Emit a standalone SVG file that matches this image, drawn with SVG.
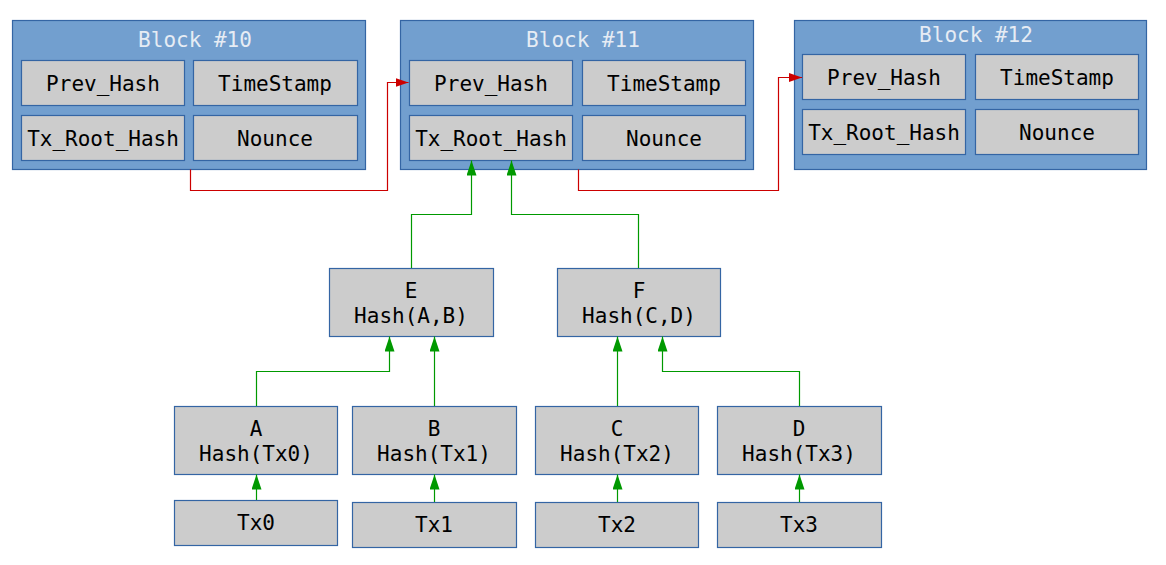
<svg xmlns="http://www.w3.org/2000/svg" width="1166" height="565" viewBox="0 0 1166 565">
<defs>
<style>
.blk{fill:#729fcf;stroke:#3465a4;stroke-width:1.2}
.cell{fill:#cccccc;stroke:#3465a4;stroke-width:1.2}
text{font-family:"DejaVu Sans Mono","Liberation Mono",monospace;font-size:21px;text-anchor:middle;fill:#000}
.ttl{fill:#e6ecf4}
.red{fill:none;stroke:#cc0000;stroke-width:1.2}
.grn{fill:none;stroke:#009900;stroke-width:1.2}
</style>
<marker id="ar" markerUnits="userSpaceOnUse" markerWidth="14" markerHeight="10" refX="13" refY="4.5" orient="auto"><path d="M0,0 L13,4.5 L0,9 z" fill="#cc0000"/></marker>
<marker id="ag" markerUnits="userSpaceOnUse" markerWidth="16" markerHeight="11" refX="15" refY="5" orient="auto"><path d="M0,0 L15,5 L0,10 z" fill="#009900"/></marker>
</defs>
<rect width="1166" height="565" fill="#ffffff"/>
<g id="block10">
<rect class="blk" x="12.5" y="20.5" width="353" height="149"/>
<text class="ttl" x="195" y="47">Block #10</text>
<rect class="cell" x="21.5" y="60.5" width="163" height="45"/>
<text x="103" y="91">Prev_Hash</text>
<rect class="cell" x="193.5" y="60.5" width="164" height="45"/>
<text x="275" y="91">TimeStamp</text>
<rect class="cell" x="21.5" y="115.5" width="163" height="45"/>
<text x="103" y="146">Tx_Root_Hash</text>
<rect class="cell" x="193.5" y="115.5" width="164" height="45"/>
<text x="275" y="146">Nounce</text>
</g>
<g id="block11">
<rect class="blk" x="400.5" y="20.5" width="353" height="149"/>
<text class="ttl" x="583" y="47">Block #11</text>
<rect class="cell" x="409.5" y="60.5" width="163" height="45"/>
<text x="491" y="91">Prev_Hash</text>
<rect class="cell" x="582.5" y="60.5" width="163" height="45"/>
<text x="664" y="91">TimeStamp</text>
<rect class="cell" x="409.5" y="115.5" width="163" height="45"/>
<text x="491" y="146">Tx_Root_Hash</text>
<rect class="cell" x="582.5" y="115.5" width="163" height="45"/>
<text x="664" y="146">Nounce</text>
</g>
<g id="block12">
<rect class="blk" x="794.5" y="20.5" width="352" height="149"/>
<text class="ttl" x="976" y="42">Block #12</text>
<rect class="cell" x="802.5" y="54.5" width="163" height="45"/>
<text x="884" y="85">Prev_Hash</text>
<rect class="cell" x="975.5" y="54.5" width="163" height="45"/>
<text x="1057" y="85">TimeStamp</text>
<rect class="cell" x="802.5" y="109.5" width="163" height="45"/>
<text x="884" y="140">Tx_Root_Hash</text>
<rect class="cell" x="975.5" y="109.5" width="163" height="45"/>
<text x="1057" y="140">Nounce</text>
</g>
<g id="nodeE">
<rect class="cell" x="329.5" y="268.5" width="164" height="68"/>
<text x="411" y="298">E</text>
<text x="411" y="323">Hash(A,B)</text>
</g>
<g id="nodeF">
<rect class="cell" x="557.5" y="268.5" width="163" height="68"/>
<text x="639" y="298">F</text>
<text x="639" y="323">Hash(C,D)</text>
</g>
<g id="nodeA">
<rect class="cell" x="174.5" y="406.5" width="163" height="68"/>
<text x="256" y="436">A</text>
<text x="256" y="461">Hash(Tx0)</text>
</g>
<g id="nodeB">
<rect class="cell" x="352.5" y="406.5" width="164" height="68"/>
<text x="434" y="436">B</text>
<text x="434" y="461">Hash(Tx1)</text>
</g>
<g id="nodeC">
<rect class="cell" x="535.5" y="406.5" width="163" height="68"/>
<text x="617" y="436">C</text>
<text x="617" y="461">Hash(Tx2)</text>
</g>
<g id="nodeD">
<rect class="cell" x="717.5" y="406.5" width="164" height="68"/>
<text x="799" y="436">D</text>
<text x="799" y="461">Hash(Tx3)</text>
</g>
<g id="tx0">
<rect class="cell" x="174.5" y="500.5" width="163" height="45"/>
<text x="256" y="530">Tx0</text>
</g>
<g id="tx1">
<rect class="cell" x="352.5" y="502.5" width="164" height="45"/>
<text x="434" y="532">Tx1</text>
</g>
<g id="tx2">
<rect class="cell" x="535.5" y="502.5" width="163" height="45"/>
<text x="617" y="532">Tx2</text>
</g>
<g id="tx3">
<rect class="cell" x="717.5" y="502.5" width="164" height="45"/>
<text x="799" y="532">Tx3</text>
</g>
<g id="connectors">
<path class="red" d="M190.5,169.5 V190.5 H387.5 V82.5 H408.5" marker-end="url(#ar)"/>
<path class="red" d="M578.5,169.5 V190.5 H778.5 V77.5 H802" marker-end="url(#ar)"/>
<path class="grn" d="M411.5,268 V214.5 H471.5 V160.5" marker-end="url(#ag)"/>
<path class="grn" d="M638.5,268 V214.5 H511.5 V160.5" marker-end="url(#ag)"/>
<path class="grn" d="M256.5,406 V371.5 H389.5 V336.5" marker-end="url(#ag)"/>
<path class="grn" d="M434.5,406 V336.5" marker-end="url(#ag)"/>
<path class="grn" d="M617.5,406 V336.5" marker-end="url(#ag)"/>
<path class="grn" d="M799.5,406 V371.5 H662.5 V336.5" marker-end="url(#ag)"/>
<path class="grn" d="M256.5,500 V474.5" marker-end="url(#ag)"/>
<path class="grn" d="M434.5,502 V474.5" marker-end="url(#ag)"/>
<path class="grn" d="M617.5,502 V474.5" marker-end="url(#ag)"/>
<path class="grn" d="M799.5,502 V474.5" marker-end="url(#ag)"/>
</g>
</svg>
